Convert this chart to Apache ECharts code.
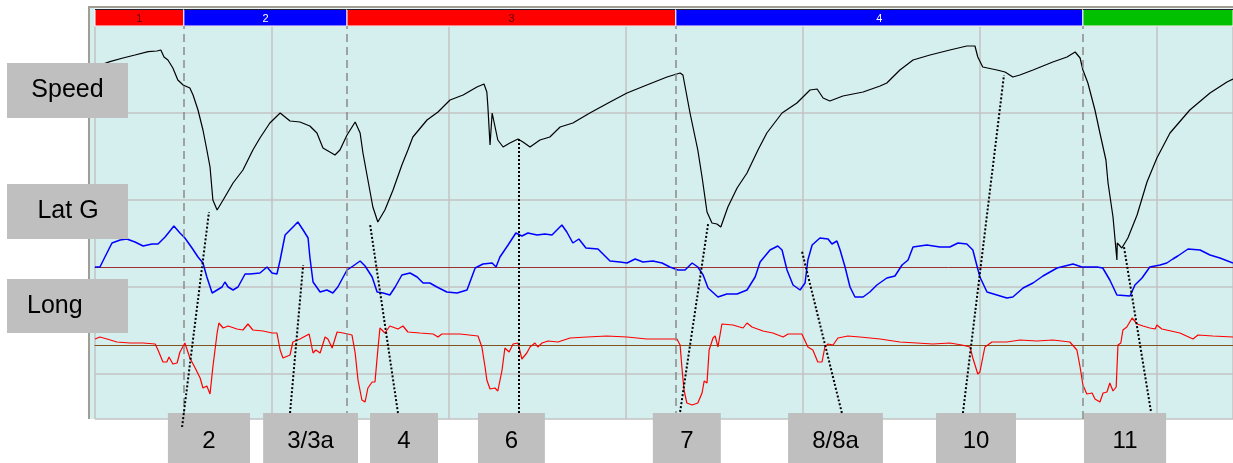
<!DOCTYPE html>
<html>
<head>
<meta charset="utf-8">
<style>
  html, body { margin: 0; padding: 0; background: #fff; }
  #chart { width: 1233px; height: 463px; }
</style>
<script src="https://cdn.jsdelivr.net/npm/echarts@6/dist/echarts.min.js"></script>
</head>
<body>
<div id="chart"></div>
<script>
// distance along the lap (m), then channel value
const speed = [[0,176],[42,178.7],[79,180.5],[113,182],[150,183.7],[175,184],[186,184.5],[195,181],[206,179.5],[220,175.5],[234,169.5],[249,167],[268,165.5],[277,162],[291,154.5],[305,144.5],[316,134.5],[325,126],[333,109.5],[345,104.5],[362,109.5],[390,118],[418,124.5],[446,134.5],[466,140.5],[494,148],[523,153],[551,149],[579,148.5],[607,146.5],[627,143],[644,135.5],[678,132],[692,134.5],[712,142],[735,148.5],[749,143],[757,133],[771,119.5],[785,106],[799,98.5],[819,104.5],[842,114.5],[867,127],[884,134.5],[898,141],[938,149.5],[969,153.5],[1003,159.5],[1040,162],[1079,166],[1099,167.5],[1107,163.5],[1110,156],[1116,137],[1122,153],[1124,152],[1138,139.5],[1153,136],[1172,138],[1195,140],[1209,138.5],[1229,136],[1257,139.5],[1285,141],[1314,146],[1350,148],[1398,153],[1455,158.5],[1503,163],[1559,167],[1616,171],[1653,173],[1661,172],[1681,153],[1703,134.5],[1715,121],[1729,103.5],[1743,98],[1757,97.5],[1768,96],[1788,106],[1814,115.5],[1842,123],[1873,134.5],[1898,143],[1941,153],[1983,158],[2020,164.5],[2040,165],[2057,160.5],[2076,159],[2113,161.5],[2170,163.5],[2218,166.5],[2237,168],[2274,174.5],[2311,179.5],[2359,182],[2415,184.5],[2463,186.5],[2486,186.5],[2494,181],[2508,176],[2548,174.5],[2571,173.5],[2593,171],[2613,172],[2650,174.5],[2706,178.5],[2746,181],[2769,183.5],[2783,180.5],[2791,174.5],[2805,168],[2825,154.5],[2839,143],[2856,129.5],[2862,118],[2876,101],[2887,79.5],[2888,88],[2901,85.5],[2918,90.5],[2944,102],[2972,118.5],[3000,130.5],[3037,143],[3093,154.5],[3150,163],[3198,168.5],[3215,170]];

const latG = [[0,0],[14,0],[28,0.2],[48,0.48],[71,0.54],[90,0.56],[113,0.5],[136,0.42],[161,0.46],[178,0.46],[198,0.6],[223,0.82],[240,0.68],[254,0.58],[274,0.38],[291,0.2],[305,0.08],[316,-0.2],[331,-0.52],[345,-0.46],[359,-0.4],[367,-0.3],[376,-0.4],[390,-0.46],[404,-0.4],[424,-0.14],[438,-0.14],[466,-0.12],[486,0],[500,-0.12],[514,-0.14],[523,0.14],[537,0.64],[551,0.74],[565,0.84],[573,0.9],[588,0.74],[602,0.58],[607,0.2],[616,-0.3],[636,-0.5],[655,-0.46],[672,-0.52],[686,-0.4],[712,-0.06],[729,0.02],[749,0.12],[763,0.02],[783,-0.2],[797,-0.5],[814,-0.52],[833,-0.56],[848,-0.4],[867,-0.16],[890,-0.12],[910,-0.2],[927,-0.32],[946,-0.32],[966,-0.4],[994,-0.5],[1023,-0.52],[1051,-0.46],[1074,-0.02],[1096,0.06],[1122,0.08],[1133,0],[1144,0.2],[1167,0.44],[1189,0.68],[1206,0.62],[1223,0.68],[1249,0.64],[1271,0.66],[1291,0.64],[1319,0.84],[1333,0.7],[1350,0.48],[1367,0.56],[1387,0.38],[1421,0.36],[1455,0.12],[1483,0.1],[1503,0.08],[1526,0.16],[1548,0.1],[1576,0.12],[1602,0.08],[1624,0],[1647,-0.06],[1667,-0.06],[1687,0.08],[1703,0],[1718,-0.16],[1732,-0.42],[1760,-0.6],[1785,-0.54],[1814,-0.54],[1842,-0.46],[1865,-0.2],[1879,0.1],[1907,0.34],[1929,0.42],[1941,0.34],[1955,-0.06],[1972,-0.36],[1992,-0.46],[2006,-0.32],[2014,0.14],[2026,0.44],[2048,0.58],[2071,0.56],[2082,0.46],[2096,0.52],[2105,0.34],[2119,0],[2133,-0.4],[2147,-0.6],[2170,-0.6],[2189,-0.5],[2209,-0.36],[2237,-0.22],[2260,-0.18],[2280,0.04],[2297,0.14],[2311,0.4],[2350,0.44],[2387,0.4],[2415,0.4],[2438,0.48],[2463,0.46],[2480,0.34],[2491,0.04],[2500,-0.2],[2520,-0.5],[2548,-0.56],[2576,-0.62],[2593,-0.6],[2622,-0.42],[2650,-0.32],[2678,-0.18],[2718,-0.02],[2763,0.06],[2788,0],[2831,0],[2847,-0.02],[2867,-0.26],[2887,-0.56],[2924,-0.58],[2938,-0.36],[2958,-0.22],[2980,0],[3009,0.04],[3028,0.08],[3045,0.16],[3059,0.22],[3088,0.36],[3122,0.34],[3150,0.24],[3178,0.18],[3215,0.08]];

const longG = [[0,0.12],[14,0.16],[34,0.12],[62,0.06],[99,0.04],[136,0.04],[170,0.02],[178,-0.1],[192,-0.34],[203,-0.34],[209,-0.24],[220,-0.38],[232,-0.36],[240,-0.14],[254,0.04],[268,-0.26],[283,-0.46],[297,-0.66],[305,-0.86],[316,-0.82],[325,-0.98],[333,-0.44],[345,0.24],[350,0.44],[362,0.34],[376,0.38],[401,0.32],[418,0.3],[432,0.42],[446,0.3],[475,0.28],[500,0.24],[514,0.24],[523,-0.1],[531,-0.26],[551,-0.2],[559,0.06],[579,0.12],[605,0.22],[616,-0.16],[624,-0.1],[636,-0.16],[650,0.16],[658,0.12],[670,-0.06],[684,0.26],[701,0.24],[726,0.2],[735,-0.16],[743,-0.7],[754,-1.1],[763,-1.14],[771,-0.86],[783,-0.74],[791,-0.74],[799,-0.1],[805,0.34],[819,0.24],[833,0.38],[856,0.32],[870,0.38],[884,0.26],[918,0.24],[955,0.22],[969,0.16],[980,0.22],[1031,0.22],[1082,0.18],[1093,-0.04],[1102,-0.44],[1107,-0.7],[1116,-0.88],[1130,-0.86],[1138,-0.92],[1150,-0.5],[1158,-0.06],[1170,-0.14],[1181,0.02],[1195,0.04],[1206,-0.28],[1220,-0.16],[1229,-0.04],[1243,0.04],[1251,-0.04],[1263,0.04],[1280,0.08],[1308,0.06],[1342,0.14],[1390,0.16],[1446,0.18],[1503,0.16],[1559,0.12],[1616,0.12],[1644,0.12],[1653,0],[1658,-0.44],[1664,-0.9],[1672,-1.16],[1687,-1.2],[1703,-1.16],[1715,-0.96],[1721,-0.72],[1729,-0.76],[1735,-0.1],[1746,0.14],[1752,0.18],[1760,-0.04],[1771,0.42],[1802,0.4],[1831,0.34],[1842,0.44],[1856,0.36],[1887,0.28],[1915,0.24],[1944,0.16],[1958,0.22],[1997,0.22],[2014,-0.04],[2028,-0.1],[2042,-0.34],[2054,-0.34],[2062,-0.04],[2071,0.02],[2085,0],[2099,0.14],[2127,0.18],[2161,0.16],[2218,0.12],[2274,0.06],[2322,0.04],[2367,0.02],[2415,0.04],[2449,0],[2472,-0.04],[2480,-0.26],[2494,-0.58],[2500,-0.54],[2514,-0.04],[2534,0.06],[2576,0.06],[2613,0.1],[2661,0.08],[2706,0.1],[2754,0.06],[2774,-0.1],[2783,-0.44],[2791,-0.8],[2802,-0.98],[2817,-0.96],[2825,-1.08],[2839,-1.14],[2848,-0.96],[2859,-0.94],[2867,-0.76],[2876,-0.92],[2885,-0.84],[2890,0],[2898,0.04],[2904,0.3],[2915,0.36],[2930,0.54],[2944,0.42],[2961,0.38],[2980,0.34],[2995,0.32],[3000,0.4],[3014,0.32],[3065,0.24],[3102,0.12],[3116,0.2],[3158,0.18],[3215,0.16]];

// lap sectors (m)
const segEdges = [0, 251, 712, 1641, 2791, 3800];
const segNames = ['1', '2', '3', '4', '5'];
const segColors = ['#ff0000', '#0000ff', '#ff0000', '#0000ff', '#00c000'];
const segTextColors = ['#600000', '#ffffff', '#600000', '#ffffff', '#ffffff'];

// corner labels: box span (m), leader from label to trace [m, speed-scale]
const corners = ['2', '3/3a', '4', '6', '7', '8/8a', '10', '11'];
const cornerFrom = [206, 475, 777, 1082, 1576, 1958, 2376, 2794];
const cornerTo = [438, 743, 969, 1271, 1768, 2226, 2602, 3026];
const leaderStart = [[246,-4],[551,3],[856,3],[1198,3],[1653,3.5],[2110,3],[2452,3],[2983,4]];
const leaderEnd = [[322,103.5],[588,77],[777,97.5],[1198,140],[1732,97.5],[1997,84],[2568,172],[2907,86]];

const channels = ['Speed', 'Lat G', 'Long'];

const FONT = '"Liberation Sans", Arial, sans-serif';
const GRID_LINE = { show: true, lineStyle: { color: '#c3c3c3', width: 1.5 } };
const hidden = { show: true, axisLine: { show: false }, axisTick: { show: false }, axisLabel: { show: false }, splitLine: { show: false } };

const chart = echarts.init(document.getElementById('chart'));

// zero reference line of a g channel, drawn as an x axis sitting on that channel's zero
const zeroAxis = (yIndex, color) => ({
  ...hidden,
  type: 'value',
  gridIndex: 0,
  min: 0,
  max: 3215,
  axisLine: { show: true, onZero: true, onZeroAxisIndex: yIndex, lineStyle: { color: color, width: 1 } }
});

const option = {
  animation: false,
  backgroundColor: '#ffffff',
  grid: [
    { left: 95, right: 0, top: 26, bottom: 44 },
    { left: 95, right: 0, top: 9, height: 17 }
  ],
  xAxis: [
    { ...hidden, type: 'value', gridIndex: 0, min: 0, max: 3215, interval: 500, splitLine: GRID_LINE },
    { ...hidden, type: 'value', gridIndex: 1, min: 0, max: 3215 },
    zeroAxis(1, '#9c2f2f'),
    zeroAxis(2, '#805420')
  ],
  yAxis: [
    { ...hidden, type: 'value', gridIndex: 0, min: 0, max: 196.5 },     // speed km/h
    { ...hidden, type: 'value', gridIndex: 0, min: -3.04, max: 4.82 },  // lat g
    { ...hidden, type: 'value', gridIndex: 0, min: -1.48, max: 6.38 },  // long g
    { ...hidden, type: 'value', gridIndex: 0, min: 0, max: 4.517, interval: 1, inverse: true, splitLine: GRID_LINE },
    { ...hidden, type: 'value', gridIndex: 1, min: 0, max: 1 }
  ],
  series: [
    {
      name: 'Speed',
      type: 'line',
      xAxisIndex: 0,
      yAxisIndex: 0,
      data: speed,
      showSymbol: false,
      lineStyle: { color: '#000000', width: 1.2 },
      silent: true,
      z: 4,
      markLine: {
        silent: true,
        symbol: ['none', 'none'],
        label: { show: false },
        lineStyle: { color: '#8a8a8a', width: 1.5, type: [8, 5] },
        data: segEdges.slice(1, 5).map(d => ({ xAxis: d }))
      }
    },
    {
      name: 'Lat G',
      type: 'line',
      xAxisIndex: 0,
      yAxisIndex: 1,
      data: latG,
      showSymbol: false,
      lineStyle: { color: '#0000ff', width: 1.5 },
      silent: true,
      z: 4
    },
    {
      name: 'Long',
      type: 'line',
      xAxisIndex: 0,
      yAxisIndex: 2,
      data: longG,
      showSymbol: false,
      lineStyle: { color: '#ff0000', width: 1.2 },
      silent: true,
      z: 4
    },
    {
      type: 'custom',
      xAxisIndex: 1,
      yAxisIndex: 4,
      silent: true,
      data: segNames.map((n, i) => [segEdges[i], segEdges[i + 1]]),
      encode: { x: [0, 1] },
      renderItem: (params, api) => {
        const i = params.dataIndex;
        const p0 = api.coord([api.value(0), 1]);
        const p1 = api.coord([api.value(1), 0]);
        const cs = params.coordSys;
        const rect = echarts.graphic.clipRectByRect(
          { x: p0[0], y: p0[1], width: p1[0] - p0[0], height: p1[1] - p0[1] },
          { x: cs.x, y: cs.y, width: cs.width, height: cs.height }
        );
        if (!rect) return;
        const children = [
          { type: 'rect', shape: rect, style: { fill: segColors[i], stroke: '#ffffff', lineWidth: 1 } },
          { type: 'line', shape: { x1: rect.x, y1: rect.y + 0.5, x2: rect.x + rect.width, y2: rect.y + 0.5 }, style: { stroke: '#202030', lineWidth: 1 } }
        ];
        const cx = (p0[0] + p1[0]) / 2;
        if (cx < cs.x + cs.width) {
          children.push({
            type: 'text',
            x: cx,
            y: (p0[1] + p1[1]) / 2 + 1,
            style: { text: segNames[i], fill: segTextColors[i], font: '11px ' + FONT, align: 'center', verticalAlign: 'middle' }
          });
        }
        return { type: 'group', children };
      }
    },
    {
      type: 'lines',
      coordinateSystem: 'cartesian2d',
      xAxisIndex: 0,
      yAxisIndex: 0,
      clip: false,
      silent: true,
      z: 20,
      lineStyle: { color: '#000000', width: 2, type: [2, 2], opacity: 1, curveness: 0 },
      data: corners.map((c, i) => ({ coords: [leaderStart[i], leaderEnd[i]] }))
    }
  ]
};

chart.setOption(option);

// panel frame, channel names and corner labels
const toX = d => chart.convertToPixel({ xAxisIndex: 0 }, d);
const graphics = [
  { type: 'rect', z: -1, silent: true, shape: { x: 88, y: 6, width: 1150, height: 413 }, style: { fill: '#d5eeee' } },
  { type: 'polyline', z: -1, silent: true, shape: { points: [[89, 419], [89, 7], [1233, 7]] }, style: { stroke: '#a19d92', lineWidth: 2, fill: null } }
];

const chanBox = [[7, 63, 121, 55], [7, 184, 121, 55], [7, 279, 121, 54]];
const chanText = [[67.5, 90, 'center'], [68, 211.5, 'center'], [27, 306, 'left']];
channels.forEach((name, i) => {
  const b = chanBox[i], t = chanText[i];
  graphics.push({ type: 'rect', z: 10, silent: true, shape: { x: b[0], y: b[1], width: b[2], height: b[3] }, style: { fill: '#bfbfbf' } });
  graphics.push({ type: 'text', z: 11, silent: true, x: t[0], y: t[1], style: { text: name, fill: '#000', font: '25px ' + FONT, align: t[2], verticalAlign: 'middle' } });
});

corners.forEach((name, i) => {
  const x0 = toX(cornerFrom[i]);
  const x1 = toX(cornerTo[i]);
  graphics.push({ type: 'rect', z: 10, silent: true, shape: { x: x0, y: 413, width: x1 - x0, height: 50 }, style: { fill: '#bfbfbf' } });
  graphics.push({ type: 'text', z: 11, silent: true, x: (x0 + x1) / 2, y: 441, style: { text: name, fill: '#000', font: '24px ' + FONT, align: 'center', verticalAlign: 'middle' } });
});

chart.setOption({ graphic: graphics });
</script>
</body>
</html>
